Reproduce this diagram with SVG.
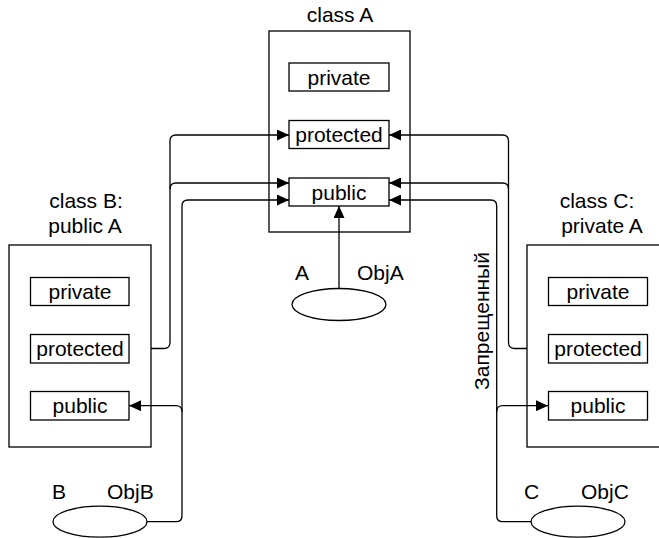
<svg xmlns="http://www.w3.org/2000/svg" width="659" height="538" viewBox="0 0 659 538">
<style>
  .box{fill:#fff;stroke:#000;stroke-width:1.3}
  .cls{fill:none;stroke:#000;stroke-width:1.3}
  .t{font-family:"Liberation Sans",Arial,sans-serif;font-size:21px;fill:#000}
  .m{text-anchor:middle}
  .ln{fill:none;stroke:#000;stroke-width:1.3}
  .arr{marker-end:url(#ah)}
</style>
<defs>
  <marker id="ah" markerWidth="12" markerHeight="11" refX="12" refY="5.5" orient="auto" markerUnits="userSpaceOnUse">
    <path d="M0,0 L12,5.5 L0,11 z" fill="#000"/>
  </marker>
</defs>
<g id="connectors">
  <path class="ln arr" d="M151,348.5 H164 Q170,348.5 170,342.5 V141 Q170,135 176,135 H289"/>
  <path class="ln arr" d="M170,189 Q170,183 176,183 H289"/>
  <path class="ln arr" d="M147,521.7 H176 Q182,521.7 182,515.7 V206 Q182,200 188,200 H289"/>
  <path class="ln arr" d="M182,411.7 Q182,405.7 176,405.7 H129"/>
  <path class="ln arr" d="M527,348.5 H514.5 Q508.5,348.5 508.5,342.5 V141 Q508.5,135 502.5,135 H389"/>
  <path class="ln arr" d="M508.5,189 Q508.5,183 502.5,183 H389"/>
  <path class="ln arr" d="M531,521.7 H502.7 Q496.7,521.7 496.7,515.7 V206 Q496.7,200 490.7,200 H389"/>
  <path class="ln arr" d="M496.7,411.7 Q496.7,405.7 502.7,405.7 H548"/>
  <path class="ln arr" d="M339,288.5 V206"/>
</g>
<g id="classA">
  <text class="t m" x="340" y="22">class A</text>
  <rect class="cls" x="269" y="31" width="141" height="201"/>
</g>
<g id="A_private"><rect class="box" x="289" y="63" width="100" height="28"/><text class="t m" x="339" y="84.5">private</text></g>
<g id="A_protected"><rect class="box" x="289" y="120.5" width="100" height="28"/><text class="t m" x="339" y="142">protected</text></g>
<g id="A_public"><rect class="box" x="289" y="178" width="100" height="28"/><text class="t m" x="339" y="199.5">public</text></g>
<g id="classB">
  <text class="t m" x="86" y="208">class B:</text>
  <text class="t m" x="85" y="233">public A</text>
  <rect class="cls" x="9" y="245" width="142" height="202"/>
</g>
<g id="B_private"><rect class="box" x="30.5" y="277.5" width="98.5" height="28"/><text class="t m" x="80" y="299">private</text></g>
<g id="B_protected"><rect class="box" x="30.5" y="334.5" width="98.5" height="28.5"/><text class="t m" x="80" y="356">protected</text></g>
<g id="B_public"><rect class="box" x="30.5" y="391.5" width="98.5" height="28.5"/><text class="t m" x="80" y="413">public</text></g>
<g id="classC">
  <text class="t m" x="597" y="208">class C:</text>
  <text class="t m" x="602" y="233">private A</text>
  <rect class="cls" x="527" y="245" width="142" height="202"/>
</g>
<g id="C_private"><rect class="box" x="548.5" y="277.5" width="99" height="28"/><text class="t m" x="598" y="299">private</text></g>
<g id="C_protected"><rect class="box" x="548.5" y="334.5" width="99" height="28.5"/><text class="t m" x="598" y="356">protected</text></g>
<g id="C_public"><rect class="box" x="548.5" y="391.5" width="99" height="28.5"/><text class="t m" x="598" y="413">public</text></g>
<g id="objA">
  <ellipse class="box" cx="339" cy="304.5" rx="47" ry="16"/>
  <text class="t" x="295" y="280">A</text>
  <text class="t" x="357" y="280">ObjA</text>
</g>
<g id="objB">
  <ellipse class="box" cx="100" cy="521.7" rx="47" ry="15.5"/>
  <text class="t" x="52" y="499">B</text>
  <text class="t" x="107" y="499">ObjB</text>
</g>
<g id="objC">
  <ellipse class="box" cx="578" cy="521.7" rx="47" ry="15.5"/>
  <text class="t" x="524" y="499">C</text>
  <text class="t" x="581" y="499">ObjC</text>
</g>
<g id="label_forbidden">
  <text class="t m" transform="translate(489,321) rotate(-90)" x="0" y="0">Запрещенный</text>
</g>
</svg>
